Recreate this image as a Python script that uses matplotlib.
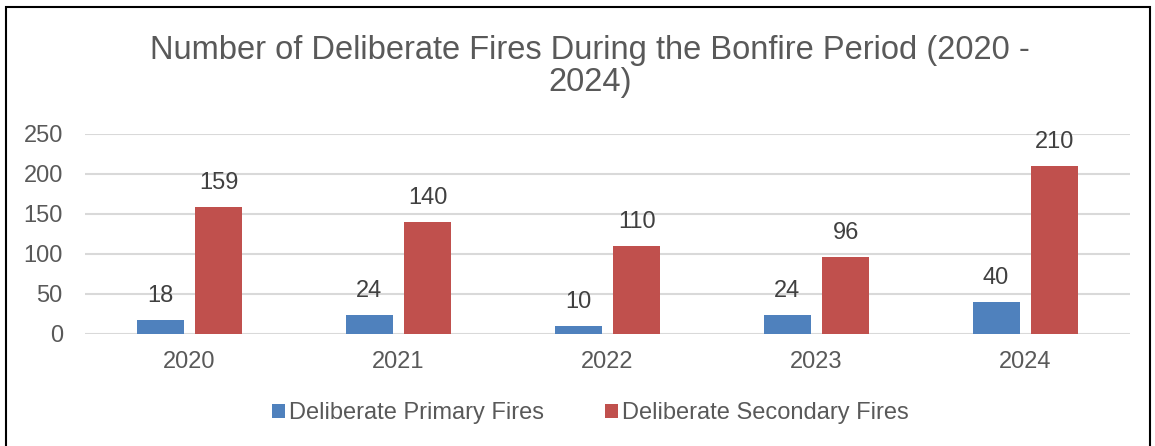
import matplotlib.pyplot as plt
import numpy as np
from matplotlib.patches import Rectangle

plt.rcParams['font.family'] = ['Liberation Sans', 'DejaVu Sans']

years = ['2020', '2021', '2022', '2023', '2024']
primary = [18, 24, 10, 24, 40]
secondary = [159, 140, 110, 96, 210]

blue = '#4F81BD'
red = '#C0504D'
grey = '#595959'

fig = plt.figure(figsize=(11.55, 4.46), dpi=100)
ax = fig.add_axes([85/1155, 1 - 334/446, 1045/1155, 200/446])

x = np.arange(len(years))
w = 0.225
off = 0.141
b1 = ax.bar(x - off, primary, w, color=blue, label='Deliberate Primary Fires', zorder=3)
b2 = ax.bar(x + off, secondary, w, color=red, label='Deliberate Secondary Fires', zorder=3)

for bars, vals in ((b1, primary), (b2, secondary)):
    for r, v in zip(bars, vals):
        ax.text(r.get_x() + r.get_width()/2, v + 30, str(v), ha='center', va='center',
                fontsize=17, color='#404040')

ax.set_xlim(-0.5, 4.5)
ax.set_ylim(0, 250)
ax.set_yticks([0, 50, 100, 150, 200, 250])
ax.set_xticks(x)
ax.set_xticklabels(years)
ax.grid(axis='y', color='#d9d9d9', linewidth=1.5, zorder=0)
for s in ax.spines.values():
    s.set_visible(False)
ax.tick_params(length=0, labelsize=17, labelcolor=grey)
ax.tick_params(axis='x', pad=12)
ax.tick_params(axis='y', pad=16)

fig.text(0.511, 1 - 50/446, 'Number of Deliberate Fires During the Bonfire Period (2020 -',
         ha='center', va='center', fontsize=23.5, color=grey)
fig.text(0.511, 1 - 83/446, '2024)', ha='center', va='center', fontsize=23.5, color=grey)

fig.legend(handles=[b1, b2], loc='center', bbox_to_anchor=(0.511, 1 - 413/446), ncol=2,
           frameon=False, fontsize=17, handlelength=0.55, handleheight=0.55,
           handletextpad=0.15, columnspacing=2.6, labelcolor=grey)

fig.patches.append(Rectangle((6/1155, -0.05), 1144/1155, 1.05 - 7/446, transform=fig.transFigure,
                             fill=False, edgecolor='black', linewidth=1.5))

fig.savefig('out.png', dpi=100)
